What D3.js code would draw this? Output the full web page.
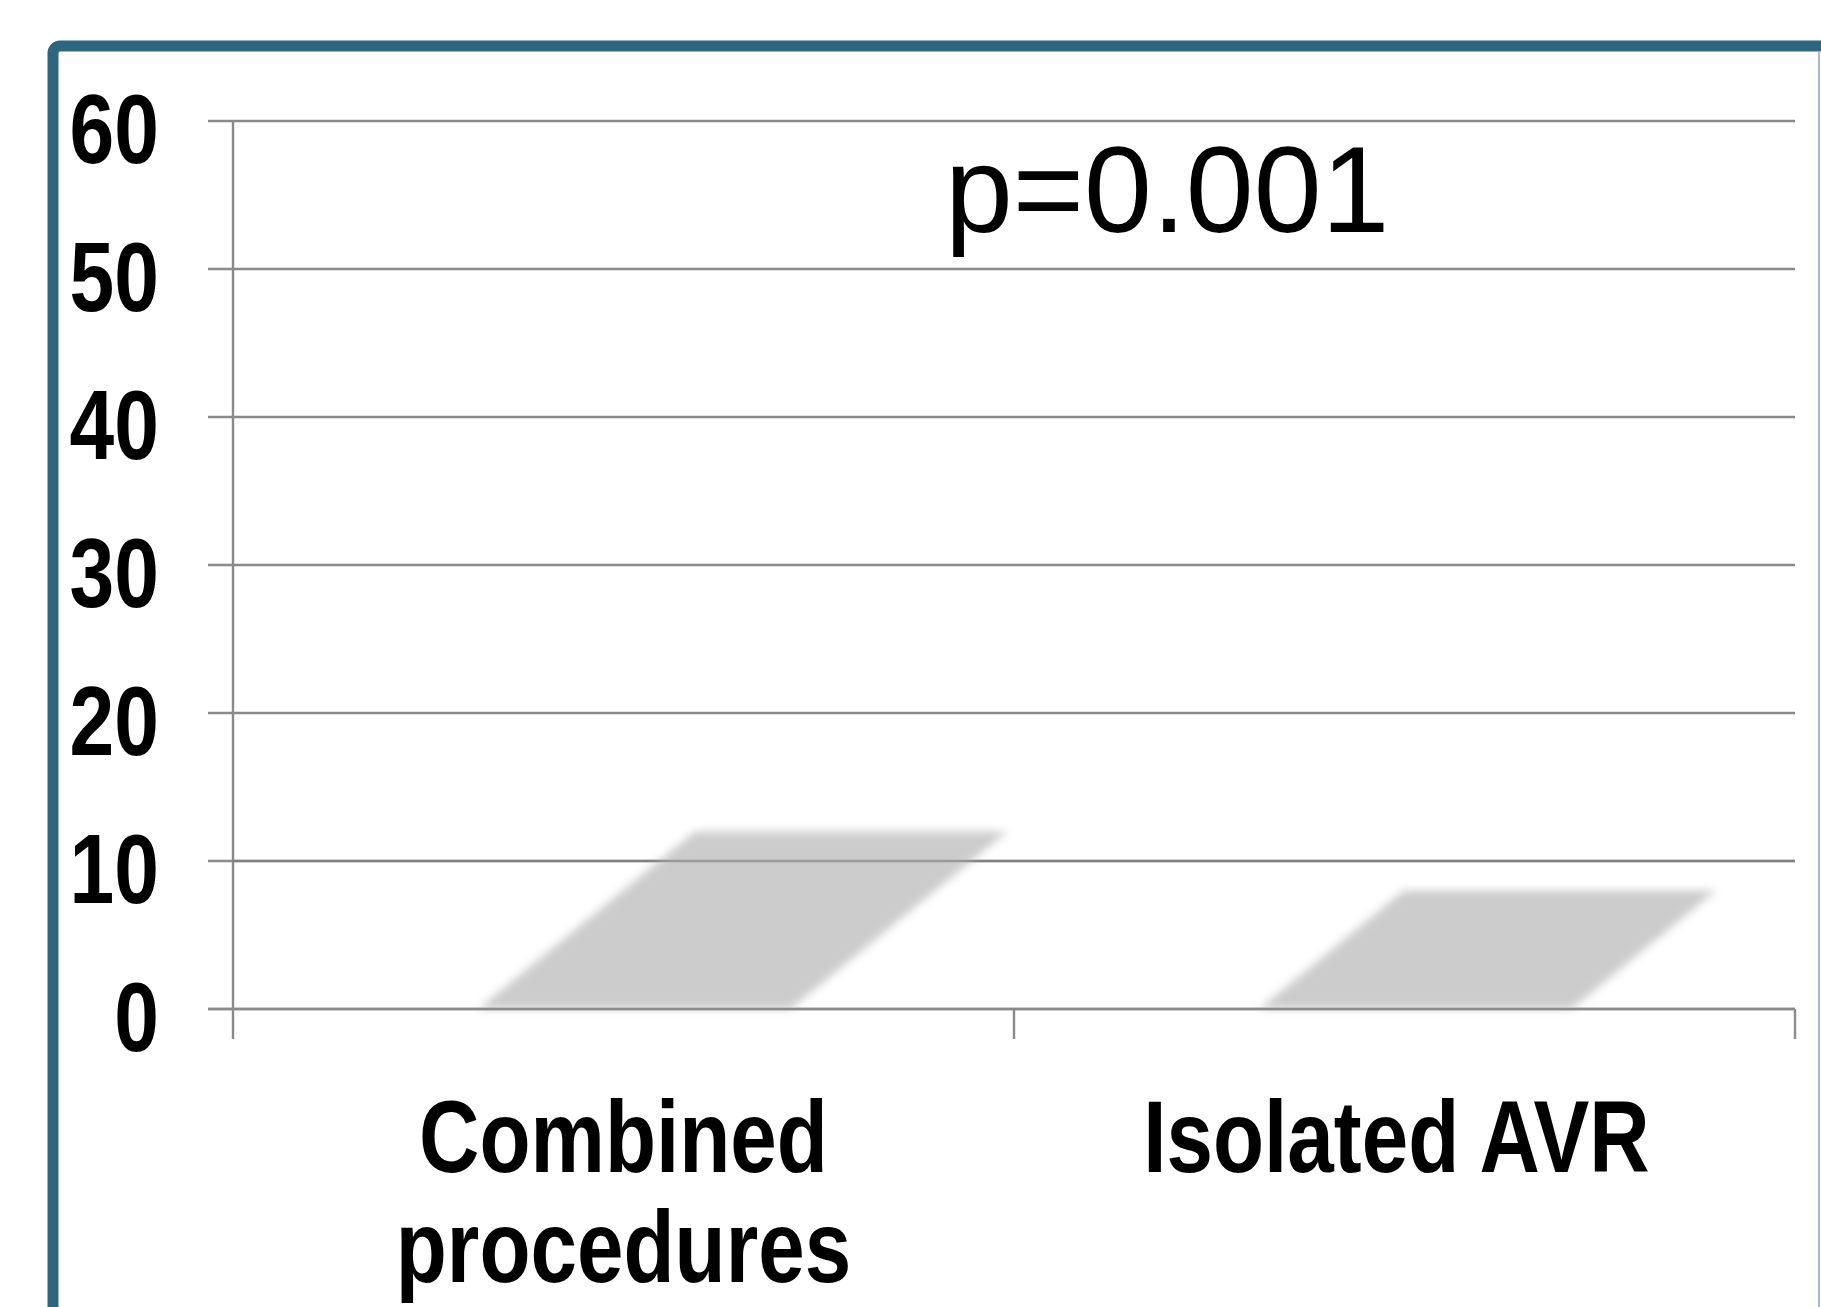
<!DOCTYPE html>
<html>
<head>
<meta charset="utf-8">
<script src="https://cdn.jsdelivr.net/npm/d3@7"></script>
<style>
  html, body { margin: 0; padding: 0; background: #fff; }
  svg { display: block; }
</style>
</head>
<body>
<script>
const categories = ["Combined procedures", "Isolated AVR"];
const labelLines = [["Combined", "procedures"], ["Isolated AVR"]];
const values = [12, 8];
const yTicks = [0, 10, 20, 30, 40, 50, 60];
const annotation = "p=0.001";

const W = 1821, H = 1307;
const svg = d3.select("body").append("svg").attr("width", W).attr("height", H);

const defs = svg.append("defs");
defs.append("filter").attr("id", "blur").attr("x", "-10%").attr("y", "-20%").attr("width", "120%").attr("height", "140%")
  .append("feGaussianBlur").attr("stdDeviation", 4.5);

// frame
svg.append("rect").attr("x", 53).attr("y", 46).attr("width", 1900).attr("height", 1500).attr("rx", 7)
  .attr("fill", "none").attr("stroke", "#2e6680").attr("stroke-width", 11);
svg.append("line").attr("x1", 1819).attr("x2", 1819).attr("y1", 52).attr("y2", H)
  .attr("stroke", "#a7b9c5").attr("stroke-width", 2);

const y = d3.scaleLinear().domain([0, 60]).range([1009, 121]);
const x = d3.scaleBand().domain(categories).range([233, 1795]).padding(0);
const bw = x.bandwidth();

const narrow = "'Liberation Sans', Arial, sans-serif";
const SX = 0.82; // horizontal condensing to mimic Arial Narrow Bold

// gridlines
svg.append("g").selectAll("line").data(yTicks).join("line")
  .attr("x1", 208).attr("x2", 1795)
  .attr("y1", d => y(d)).attr("y2", d => y(d))
  .attr("stroke", "#8a8a8a").attr("stroke-width", 2.4);

// y axis line
svg.append("line").attr("x1", 233).attr("x2", 233).attr("y1", y(60)).attr("y2", y(0) + 30)
  .attr("stroke", "#8a8a8a").attr("stroke-width", 2.4);
// x ticks
const xTickPos = [x.range()[0] + bw, x.range()[1]];
svg.append("g").selectAll("line").data(xTickPos).join("line")
  .attr("x1", d => d).attr("x2", d => d).attr("y1", y(0)).attr("y2", y(0) + 30)
  .attr("stroke", "#8a8a8a").attr("stroke-width", 2.4);

// y labels
svg.append("g").selectAll("text").data(yTicks).join("text")
  .attr("transform", d => `translate(159,${y(d) + 42}) scale(${SX},1)`)
  .attr("text-anchor", "end")
  .attr("font-family", narrow).attr("font-weight", "bold").attr("font-size", 98)
  .attr("fill", "#000").text(d => d);

// shadow bars (parallelograms)
const k = 1.22;
svg.append("g").selectAll("path").data(values).join("path")
  .attr("d", (v, i) => {
    const bx = x(categories[i]) + 0.314 * bw;
    const w = 0.40 * bw;
    const y0 = y(0), yv = y(v), h = y0 - yv;
    return `M${bx},${y0} L${bx + w},${y0} L${bx + w + k * h},${yv} L${bx + k * h},${yv} Z`;
  })
  .attr("fill", "#cccccc").attr("filter", "url(#blur)");

// gridlines over the shadow
svg.append("g").selectAll("line").data(yTicks.filter(d => d > 0 && d < 20)).join("line")
  .attr("x1", 233).attr("x2", 1795)
  .attr("y1", d => y(d)).attr("y2", d => y(d))
  .attr("stroke", "#7a7a7a").attr("stroke-width", 2.4).attr("opacity", 0.6);
svg.append("line").attr("x1", 208).attr("x2", 1795).attr("y1", y(0)).attr("y2", y(0))
  .attr("stroke", "#8a8a8a").attr("stroke-width", 2.4);

// x labels
const shifts = [0, -8];
labelLines.forEach((lines, i) => {
  const cx = x(categories[i]) + bw / 2 + shifts[i];
  lines.forEach((ln, j) => {
    svg.append("text").attr("text-anchor", "middle")
      .attr("transform", `translate(${cx},${1172 + j * 110}) scale(${SX},1)`)
      .attr("font-family", narrow).attr("font-weight", "bold").attr("font-size", 102).attr("fill", "#000")
      .text(ln);
  });
});

// annotation
svg.append("text").attr("x", 945).attr("y", 232)
  .attr("font-family", "'Liberation Sans', Arial, sans-serif").attr("font-size", 122)
  .attr("fill", "#000").text(annotation);
</script>
</body>
</html>
